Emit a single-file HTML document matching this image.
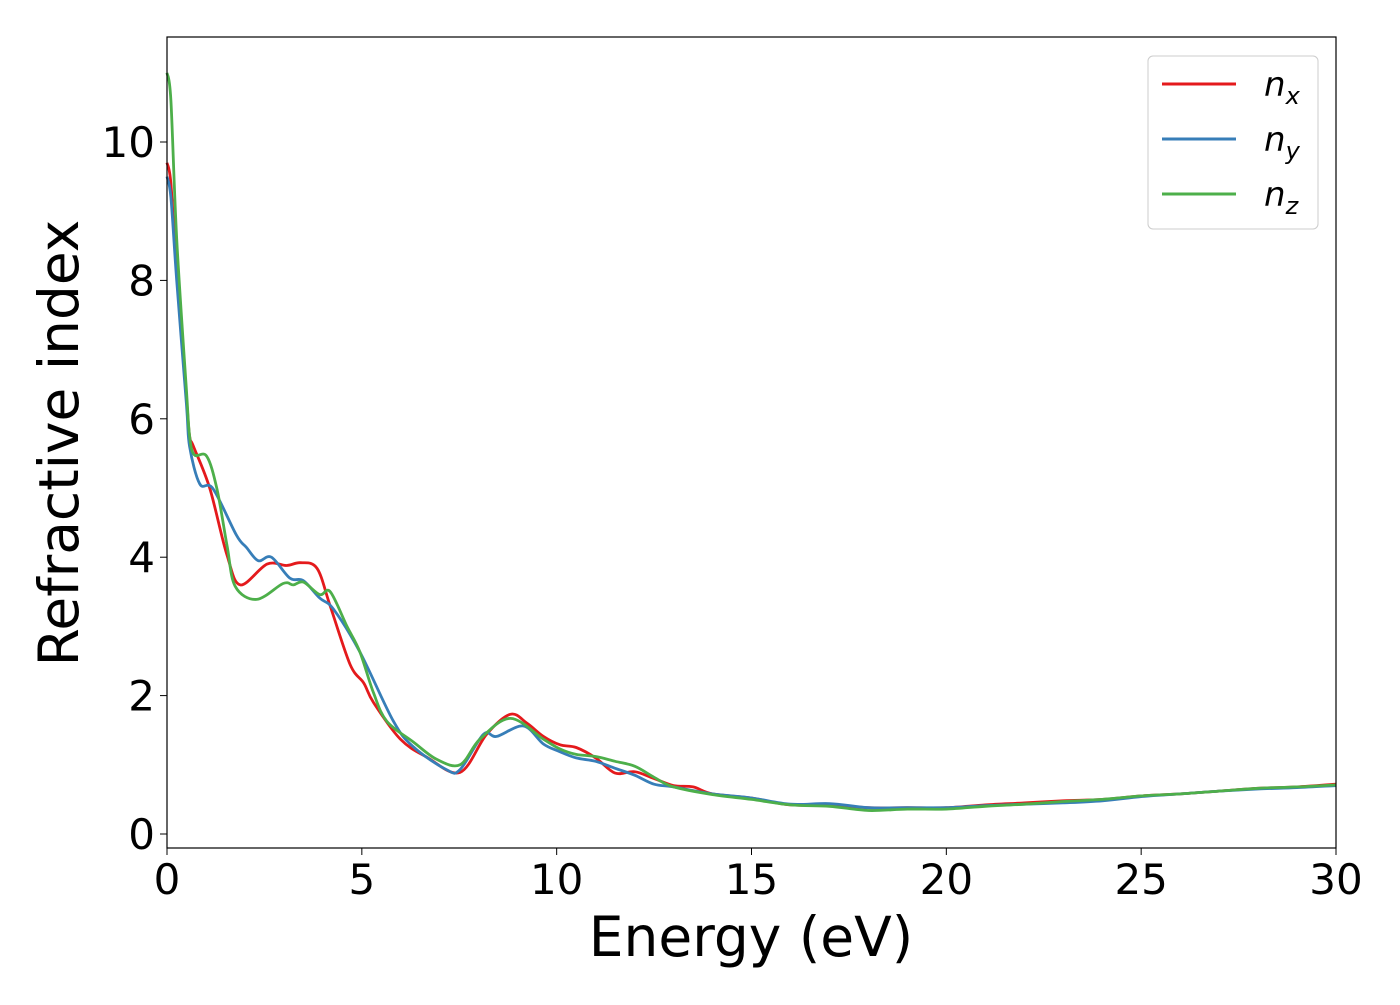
<!DOCTYPE html>
<html><head><meta charset="utf-8"><style>
body{margin:0;background:#fff;}
svg text{font-family:"DejaVu Sans","Liberation Sans",sans-serif;}
</style></head><body>
<svg id="chart" width="1400" height="1000" xmlns="http://www.w3.org/2000/svg">
<rect width="1400" height="1000" fill="#fff"/>
<g id="lines"></g>
<rect x="167" y="37" width="1169" height="811" fill="none" stroke="#000" stroke-width="1.2"/>
<g id="axes"></g>
<text x="751" y="956" font-size="55" text-anchor="middle">Energy (eV)</text>
<text x="0" y="0" font-size="55" text-anchor="middle" transform="translate(78,443) rotate(-90)">Refractive index</text>
<g>
<rect x="1148" y="56" width="170" height="173" rx="5" fill="#fff" stroke="#ccc" stroke-width="1"/>
<line x1="1162" y1="84" x2="1236" y2="84" stroke="#e41a1c" stroke-width="3"/>
<text x="1264" y="96" font-size="34" font-style="italic">n<tspan font-size="24" dy="8">x</tspan></text>
<line x1="1162" y1="139" x2="1236" y2="139" stroke="#377eb8" stroke-width="3"/>
<text x="1264" y="151" font-size="34" font-style="italic">n<tspan font-size="24" dy="8">y</tspan></text>
<line x1="1162" y1="194" x2="1236" y2="194" stroke="#4daf4a" stroke-width="3"/>
<text x="1264" y="206" font-size="34" font-style="italic">n<tspan font-size="24" dy="8">z</tspan></text>
</g>
</svg>
<script>
const xTicks=[0,5,10,15,20,25,30];
const yTicks=[0,2,4,6,8,10];
const redE=[0,0.1,0.25,0.5,0.58,0.68,1.1,1.54,1.88,2.57,3.07,3.42,3.85,4.19,4.7,5.05,5.3,5.99,6.67,7.52,8.2,8.81,9.24,9.66,10.08,10.5,11,11.5,12,12.5,13,13.5,14,15,16,17,18,19,20,21,22,23,24,25,26,27,28,29,30];
const redN=[9.7,9.4,8.1,6.3,5.75,5.6,4.99,4.03,3.6,3.9,3.88,3.92,3.84,3.29,2.45,2.18,1.9,1.37,1.11,0.89,1.44,1.73,1.6,1.41,1.29,1.25,1.1,0.88,0.9,0.8,0.7,0.68,0.58,0.52,0.42,0.42,0.38,0.38,0.38,0.42,0.45,0.48,0.5,0.55,0.58,0.62,0.66,0.68,0.72];
const blueE=[0,0.1,0.25,0.5,0.58,0.84,1.18,1.78,2.04,2.34,2.68,3.15,3.5,3.92,4.27,4.95,5.81,6.32,7.17,7.52,8.12,8.46,9.15,9.66,10.08,10.5,11,11.5,12,12.5,13,14,15,16,17,18,19,20,21,22,23,24,25,26,27,28,29,30];
const blueN=[9.5,9.2,8.0,6.2,5.6,5.06,4.99,4.32,4.14,3.95,4.0,3.7,3.66,3.41,3.25,2.63,1.63,1.26,0.93,0.93,1.44,1.41,1.56,1.3,1.19,1.1,1.05,0.95,0.85,0.72,0.68,0.58,0.52,0.43,0.44,0.38,0.38,0.38,0.41,0.43,0.45,0.48,0.54,0.58,0.62,0.65,0.67,0.7];
const greenE=[0,0.1,0.25,0.5,0.58,0.7,1.02,1.28,1.54,1.75,2.3,2.98,3.24,3.5,3.92,4.19,4.62,4.95,5.3,5.64,6.32,6.92,7.52,8.03,8.81,9.66,10.08,10.5,11,11.5,12,12.5,13,14,15,16,17,18,19,20,21,22,23,24,25,26,27,28,29,30];
const greenN=[11.0,10.6,8.6,6.4,5.75,5.48,5.46,4.99,4.17,3.58,3.39,3.62,3.6,3.64,3.46,3.5,3.0,2.63,2.04,1.63,1.33,1.08,1.0,1.37,1.67,1.37,1.23,1.15,1.12,1.05,0.98,0.82,0.68,0.57,0.5,0.42,0.4,0.34,0.36,0.36,0.4,0.43,0.47,0.5,0.55,0.58,0.62,0.66,0.68,0.71];
const NS='http://www.w3.org/2000/svg';
function xs(v){return 167+v*(1169/30);}
function ys(v){return 834-v*69.2;}
const axes=document.getElementById('axes');
xTicks.forEach(t=>{
  const l=document.createElementNS(NS,'line');
  
  
  l.setAttribute('x1',xs(t));l.setAttribute('x2',xs(t));l.setAttribute('y1',848);l.setAttribute('y2',855);l.setAttribute('stroke','#000');
  axes.appendChild(l);
  const tx=document.createElementNS(NS,'text');
  
  
  tx.setAttribute('x',xs(t));tx.setAttribute('y',894);tx.setAttribute('font-size','42');tx.setAttribute('text-anchor','middle');
  tx.textContent=t;axes.appendChild(tx);
});
yTicks.forEach(t=>{
  const l=document.createElementNS(NS,'line');
  
  
  l.setAttribute('x1',160);l.setAttribute('x2',167);l.setAttribute('y1',ys(t));l.setAttribute('y2',ys(t));l.setAttribute('stroke','#000');
  axes.appendChild(l);
  const tx=document.createElementNS(NS,'text');
  
  
  tx.setAttribute('x',155);tx.setAttribute('y',ys(t)+15);tx.setAttribute('font-size','42');tx.setAttribute('text-anchor','end');
  tx.textContent=t;axes.appendChild(tx);
});
function pathFor(E,N){
  const p=E.map((e,i)=>[xs(e),ys(N[i])]);
  let d='M'+p[0][0].toFixed(1)+','+p[0][1].toFixed(1);
  for(let i=0;i<p.length-1;i++){
    const p0=p[i-1]||p[i],p1=p[i],p2=p[i+1],p3=p[i+2]||p2;
    const c1=[p1[0]+(p2[0]-p0[0])/6,p1[1]+(p2[1]-p0[1])/6];
    const c2=[p2[0]-(p3[0]-p1[0])/6,p2[1]-(p3[1]-p1[1])/6];
    d+=' C'+c1.map(v=>v.toFixed(1))+' '+c2.map(v=>v.toFixed(1))+' '+p2.map(v=>v.toFixed(1));
  }
  return d;
}
const g=document.getElementById('lines');
[[redE,redN,'#e41a1c','series-nx'],[blueE,blueN,'#377eb8','series-ny'],[greenE,greenN,'#4daf4a','series-nz']].forEach(s=>{
  const pa=document.createElementNS(NS,'path');
  
  
  pa.setAttribute('d',pathFor(s[0],s[1]));
  pa.setAttribute('fill','none');pa.setAttribute('stroke',s[2]);pa.setAttribute('stroke-width','2.8');
  g.appendChild(pa);
});
</script>
</body></html>
